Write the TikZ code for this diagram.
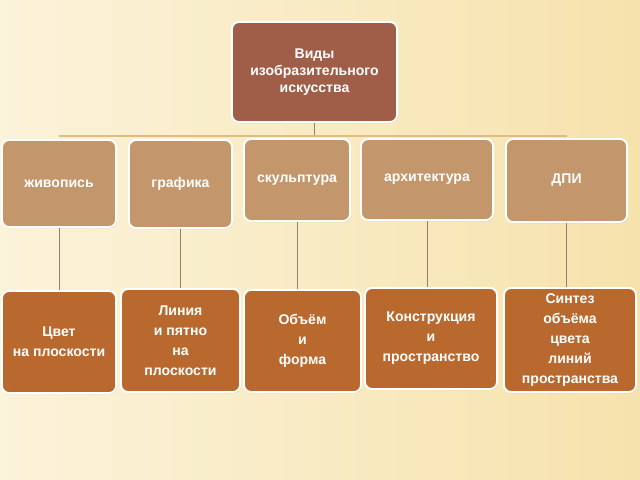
\documentclass[tikz,border=0pt]{standalone}
\usepackage{fontspec}
\setmainfont{Liberation Sans}
\usetikzlibrary{shadows, backgrounds}
\definecolor{fondclair}{HTML}{FBF3DA}
\definecolor{fondjaune}{HTML}{F6E2AC}
\definecolor{brique}{HTML}{A05E48}
\definecolor{sable}{HTML}{C4966C}
\definecolor{rouille}{HTML}{B9692D}
\definecolor{trait}{HTML}{8E8272}
\definecolor{bus}{HTML}{DCBD84}
\tikzstyle{every node}=[font=\bfseries\fontsize{10}{12.2}\selectfont, text=white]
\tikzstyle{boite}=[draw=white, line width=1.4pt, rounded corners=5pt, align=center, inner sep=2pt,
	drop shadow={opacity=0.35, shadow xshift=0.6pt, shadow yshift=-0.8pt}]
\tikzstyle{haut}=[boite, fill=brique, minimum width=4.125cm, minimum height=2.5cm]
\tikzstyle{milieu}=[boite, fill=sable]
\tikzstyle{bas}=[boite, fill=rouille, font=\bfseries\fontsize{10}{14.2}\selectfont]
\tikzstyle{lien}=[draw=trait, line width=0.7pt]

\begin{document}
\begin{tikzpicture}[x=0.025cm, y=-0.025cm]
	\useasboundingbox (0,0) rectangle (640,480);

% TITRE
	\node[haut] (vidy) at (314.5,72) {Виды\\изобразительного\\искусства};

% RANG 1
	\coordinate (barre) at (0,136);
	\node[milieu, minimum width=2.85cm, minimum height=2.175cm] (zhiv) at (59,183.5) {живопись};
	\node[milieu, minimum width=2.575cm, minimum height=2.2cm] (graf) at (180.5,184) {графика};
	\node[milieu, minimum width=2.65cm, minimum height=2.05cm] (skul) at (297,180) {скульптура};
	\node[milieu, minimum width=3.3cm, minimum height=2.025cm] (arkh) at (427,179.5) {архитектура};
	\node[milieu, minimum width=3.025cm, minimum height=2.075cm] (dpi) at (566.5,180.5) {ДПИ};

% RANG 2
	\node[bas, minimum width=2.85cm, minimum height=2.55cm] (tsvet) at (59,342) {Цвет\\на плоскости};
	\node[bas, minimum width=2.975cm, minimum height=2.575cm] (liniya) at (180.5,340.5) {Линия\\и пятно\\на\\плоскости};
	\node[bas, minimum width=2.925cm, minimum height=2.55cm] (obem) at (302.5,341) {Объём\\и\\форма};
	\node[bas, minimum width=3.3cm, minimum height=2.525cm] (konstr) at (431,338.5) {Конструкция\\и\\пространство};
	\node[bas, minimum width=3.3cm, minimum height=2.6cm] (sintez) at (570,340) {Синтез\\объёма\\цвета\\линий\\пространства};

% LIENS
	\begin{scope}[on background layer]
		\fill[left color=fondclair, right color=fondjaune] (0,0) rectangle (640,480);
		\draw[lien] (vidy.south) -- (vidy |- barre);
		\draw[bus, line width=1.5pt] (zhiv |- barre) -- (dpi |- barre);
		\draw[lien] (zhiv.south) -- (zhiv |- tsvet.north);
		\draw[lien] (graf.south) -- (graf |- liniya.north);
		\draw[lien] (skul.south) -- (skul |- obem.north);
		\draw[lien] (arkh.south) -- (arkh |- konstr.north);
		\draw[lien] (dpi.south) -- (dpi |- sintez.north);
	\end{scope}
\end{tikzpicture}
\end{document}
